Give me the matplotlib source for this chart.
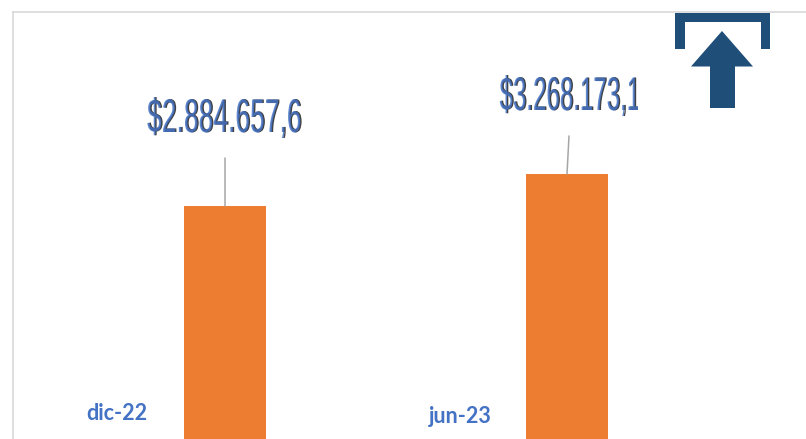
import matplotlib
matplotlib.use("Agg")
import matplotlib.pyplot as plt
from matplotlib.colors import to_rgba
from matplotlib.patches import Polygon
from matplotlib.patheffects import AbstractPathEffect
from matplotlib.transforms import Affine2D, Bbox, IdentityTransform

W, H = 806, 439

categories = ["dic-22", "jun-23"]
values = [2884657.6, 3268173.1]

ORANGE = "#ED7D31"
BLUE = "#4472C4"
DARK = "#404040"
NAVY = "#1F4E79"
GREY = "#A6A6A6"
FRAME = "#D9D9D9"


class Squeezed(AbstractPathEffect):
    """Comprime el texto en x alrededor de x0 y lo redibuja con otro color."""

    def __init__(self, x0, sx, color, dx=0.0, alpha=1.0):
        super().__init__()
        self.x0, self.sx, self.dx = x0, sx, dx
        self.color = to_rgba(color, alpha)

    def draw_path(self, renderer, gc, tpath, affine, rgbFace=None):
        t = affine + Affine2D().translate(-self.x0, 0).scale(self.sx, 1).translate(self.x0 + self.dx, 0)
        renderer.draw_path(gc, tpath, t, self.color)


def px_poly(points, color):
    # puntos en pixeles de la imagen (y hacia abajo)
    xy = [(x, H - y) for x, y in points]
    fig.add_artist(Polygon(xy, closed=True, facecolor=color, edgecolor="none", transform=IdentityTransform()))


# +0.01: 4.39 * 100 se trunca a 438 si no
fig = plt.figure(figsize=((W + 0.01) / 100, (H + 0.01) / 100), dpi=100)
ax = fig.add_axes([12.5 / W, 0, 1 - 12.5 / W, 1 - 12.5 / H])

# escala: barras centradas en 225 y 567 px, tope en 206 y 174 px
ax.bar(range(len(values)), values, width=0.237, color=ORANGE)
ax.set_xlim((12.5 - 225) / 342, (806 - 225) / 342)
ax.set_ylim(92152, 5203755)
ax.set_xticks([])
ax.set_yticks([])
for side in ["right", "bottom"]:
    ax.spines[side].set_visible(False)
for side in ["left", "top"]:
    ax.spines[side].set_color(FRAME)
    ax.spines[side].set_linewidth(1.2)

leader_dx = [0, 2]
leader_dy = [48, 38]
label_dx = [0, 3.5]
label_dy = [86, 76]
label_sx = [0.56, 0.51]
cat_dx = [-108, -107]
cat_dy = [26, 23]

for i, v in enumerate(values):
    ax.annotate("", xy=(i, v), xytext=(leader_dx[i], leader_dy[i]), textcoords="offset pixels",
                arrowprops=dict(arrowstyle="-", color=GREY, lw=1.1, shrinkA=0, shrinkB=0))

    txt = "$" + f"{v:,.1f}".replace(",", "X").replace(".", ",").replace("X", ".")
    x0 = ax.transData.transform((i, v))[0] + label_dx[i]
    t = ax.annotate(txt, xy=(i, v), xytext=(label_dx[i], label_dy[i]), textcoords="offset pixels",
                    ha="center", va="center", fontsize=34, family="Liberation Sans", color=BLUE,
                    annotation_clip=False)
    sx = label_sx[i]
    t.set_path_effects([Squeezed(x0, sx, DARK, dx=0.7),
                        Squeezed(x0, sx, BLUE, dx=-0.6, alpha=0.85)])
    t.set_clip_on(True)
    t.set_clip_box(Bbox([[0, 0], [638, H]]))

    ax.annotate(categories[i], xy=(i, 0), xycoords=("data", "axes fraction"),
                xytext=(cat_dx[i], cat_dy[i]), textcoords="offset pixels",
                ha="center", va="center", fontsize=15.5, fontweight="bold", family="Lato", color=BLUE)

# icono: corchete y flecha
px_poly([(675, 13), (770, 13), (770, 49), (760.5, 49), (760.5, 22), (684.5, 22), (684.5, 49), (675, 49)], NAVY)
px_poly([(722, 31), (753, 66.5), (735, 66.5), (735, 108), (710, 108), (710, 66.5), (691, 66.5)], NAVY)

fig.savefig("out.png", dpi=100)
